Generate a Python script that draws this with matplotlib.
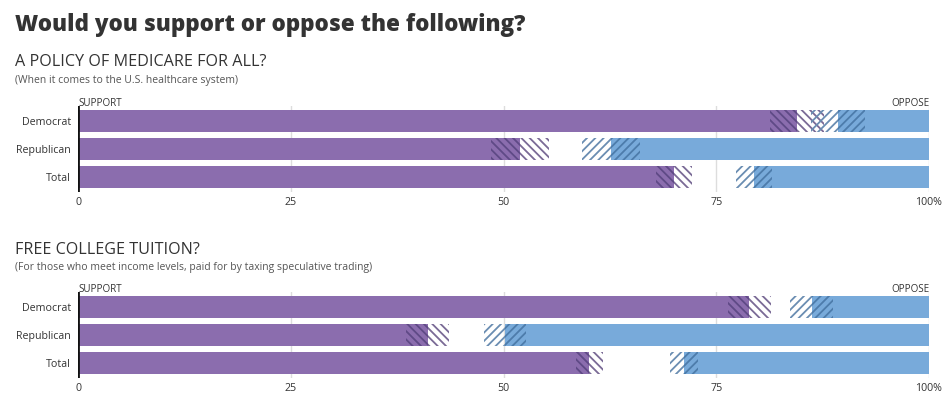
import matplotlib
matplotlib.use("Agg")
import matplotlib.pyplot as plt
import numpy as np

plt.rcParams['font.family'] = ['Open Sans', 'DejaVu Sans']
plt.rcParams['hatch.linewidth'] = 1.3

# ---- data ----
groups = ["Democrat", "Republican", "Total"]

medicare_support = [84.5, 51.9, 70.0]
medicare_oppose = [10.7, 37.4, 20.6]
medicare_moe = [3.2, 3.4, 2.1]

tuition_support = [78.9, 41.1, 60.1]
tuition_oppose = [13.8, 49.8, 28.8]
tuition_moe = [2.5, 2.5, 1.6]

tick_vals = [0, 25, 50, 75, 100]
tick_labels = ["0", "25", "50", "75", "100%"]

title = "Would you support or oppose the following?"
panels = [
    ("A POLICY OF MEDICARE FOR ALL?", "(When it comes to the U.S. healthcare system)",
     medicare_support, medicare_oppose, medicare_moe),
    ("FREE COLLEGE TUITION?", "(For those who meet income levels, paid for by taxing speculative trading)",
     tuition_support, tuition_oppose, tuition_moe),
]

# ---- style ----
W, H = 949, 398
PURPLE = "#8b6dae"
PURPLE_DARK_HATCH = "#5f4a86"
PURPLE_LIGHT_HATCH = "#7a6a96"
BLUE = "#78aada"
BLUE_DARK_HATCH = "#4d7cab"
BLUE_LIGHT_HATCH = "#6a8db2"
TXT = "#333333"

fig = plt.figure(figsize=(W / 100, H / 100), dpi=100)

def fx(x):
    return x / W

def fy(y):
    return 1 - y / H

fig.text(fx(15), fy(31), title, fontsize=16.1, fontweight="heavy", color=TXT, va="baseline")

layout = [
    dict(head=66.5, note=83, sup=106, top=105.6, bot=192.4),
    dict(head=254, note=270, sup=291.5, top=291.6, bot=378.4),
]

bh = 22 / 28
for (head, note, sup, opp, moe), L in zip(panels, layout):
    fig.text(fx(15), fy(L["head"]), head, fontsize=11.6, color=TXT, va="baseline")
    fig.text(fx(15), fy(L["note"]), note, fontsize=7.5, color="#555555", va="baseline")
    fig.text(fx(78), fy(L["sup"]), "SUPPORT", fontsize=7.1, color=TXT, va="baseline", ha="left")
    fig.text(fx(929), fy(L["sup"]), "OPPOSE", fontsize=7.1, color=TXT, va="baseline", ha="right")

    ax = fig.add_axes([fx(78), fy(L["bot"]), (929 - 78) / W, (L["bot"] - L["top"]) / H])
    y = np.arange(len(groups))
    sup = np.array(sup); opp = np.array(opp); moe = np.array(moe)

    for v in tick_vals[1:]:
        ax.axvline(v, color="#dddddd", lw=1, zorder=0)

    # support side
    ax.barh(y, sup - moe, left=0, height=bh, color=PURPLE, lw=0, zorder=2)
    ax.barh(y, moe, left=sup - moe, height=bh, facecolor=PURPLE, edgecolor=PURPLE_DARK_HATCH,
            hatch="\\\\\\\\", lw=0, zorder=2)
    ax.barh(y, moe, left=sup, height=bh, facecolor="none", edgecolor=PURPLE_LIGHT_HATCH,
            hatch="\\\\\\\\", lw=0, zorder=3)
    # oppose side
    ax.barh(y, opp - moe, left=100 - (opp - moe), height=bh, color=BLUE, lw=0, zorder=2)
    ax.barh(y, moe, left=100 - opp, height=bh, facecolor=BLUE, edgecolor=BLUE_DARK_HATCH,
            hatch="////", lw=0, zorder=2)
    ax.barh(y, moe, left=100 - opp - moe, height=bh, facecolor="none", edgecolor=BLUE_LIGHT_HATCH,
            hatch="////", lw=0, zorder=3)

    ax.axvline(0, color="#111111", lw=2, zorder=4)

    ax.set_xlim(0, 100)
    ax.set_ylim(len(groups) - 0.45, -0.55)
    ax.set_yticks(y)
    ax.set_yticklabels(groups, fontsize=7.7, color=TXT)
    ax.set_xticks(tick_vals)
    ax.set_xticklabels(tick_labels, fontsize=7.7, color=TXT)
    ax.tick_params(length=0, pad=5)
    ax.tick_params(axis="x", pad=3)
    for s in ax.spines.values():
        s.set_visible(False)
    ax.set_facecolor("none")

fig.savefig("out.png", dpi=100, facecolor="white")
